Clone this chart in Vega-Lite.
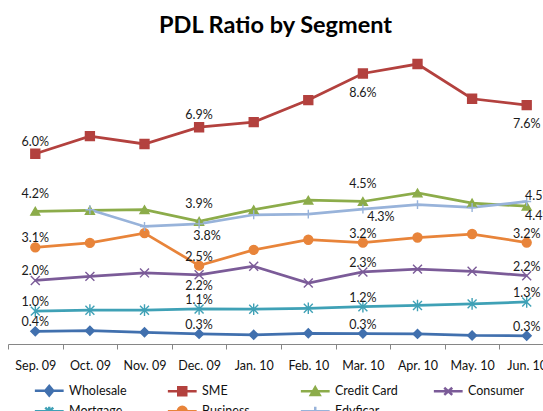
{
  "$schema": "https://vega.github.io/schema/vega-lite/v6.json",
  "autosize": "none",
  "width": 535,
  "height": 316,
  "padding": {"left": 8, "top": 28, "right": 0, "bottom": 67},
  "background": "white",
  "title": {"text": "PDL Ratio by Segment", "font": "Lato", "fontSize": 23.5, "fontWeight": "bold", "color": "#000000", "anchor": "middle", "baseline": "alphabetic", "offset": -4, "dy": 24},
  "config": {
    "view": {"stroke": null},
    "axis": {"title": null, "labelFont": "Lato", "labelFontSize": 12.5, "labelColor": "#111111", "domainColor": "#868686", "tickColor": "#868686", "tickSize": 5, "tickBand": "extent", "labelPadding": 10, "labelAngle": 0, "grid": false},
    "text": {"font": "Lato", "fontSize": 12.5, "color": "#1a1a1a", "baseline": "middle", "align": "center"}
  },
  "data": {"values": [
    {"m":"Sep. 09","s":"Wholesale","v":0.0040},{"m":"Oct. 09","s":"Wholesale","v":0.0042},{"m":"Nov. 09","s":"Wholesale","v":0.0037},{"m":"Dec. 09","s":"Wholesale","v":0.0032},{"m":"Jan. 10","s":"Wholesale","v":0.0029},{"m":"Feb. 10","s":"Wholesale","v":0.0034},{"m":"Mar. 10","s":"Wholesale","v":0.0033},{"m":"Apr. 10","s":"Wholesale","v":0.0032},{"m":"May. 10","s":"Wholesale","v":0.0027},{"m":"Jun. 10","s":"Wholesale","v":0.0026},
    {"m":"Sep. 09","s":"SME","v":0.0602},{"m":"Oct. 09","s":"SME","v":0.0658},{"m":"Nov. 09","s":"SME","v":0.0633},{"m":"Dec. 09","s":"SME","v":0.0686},{"m":"Jan. 10","s":"SME","v":0.0702},{"m":"Feb. 10","s":"SME","v":0.0772},{"m":"Mar. 10","s":"SME","v":0.0856},{"m":"Apr. 10","s":"SME","v":0.0886},{"m":"May. 10","s":"SME","v":0.0776},{"m":"Jun. 10","s":"SME","v":0.0756},
    {"m":"Sep. 09","s":"Credit Card","v":0.0420},{"m":"Oct. 09","s":"Credit Card","v":0.0423},{"m":"Nov. 09","s":"Credit Card","v":0.0425},{"m":"Dec. 09","s":"Credit Card","v":0.0388},{"m":"Jan. 10","s":"Credit Card","v":0.0425},{"m":"Feb. 10","s":"Credit Card","v":0.0455},{"m":"Mar. 10","s":"Credit Card","v":0.0451},{"m":"Apr. 10","s":"Credit Card","v":0.0478},{"m":"May. 10","s":"Credit Card","v":0.0446},{"m":"Jun. 10","s":"Credit Card","v":0.0436},
    {"m":"Sep. 09","s":"Consumer","v":0.0201},{"m":"Oct. 09","s":"Consumer","v":0.0214},{"m":"Nov. 09","s":"Consumer","v":0.0225},{"m":"Dec. 09","s":"Consumer","v":0.0219},{"m":"Jan. 10","s":"Consumer","v":0.0246},{"m":"Feb. 10","s":"Consumer","v":0.0193},{"m":"Mar. 10","s":"Consumer","v":0.0228},{"m":"Apr. 10","s":"Consumer","v":0.0237},{"m":"May. 10","s":"Consumer","v":0.0230},{"m":"Jun. 10","s":"Consumer","v":0.0216},
    {"m":"Sep. 09","s":"Mortgage","v":0.0104},{"m":"Oct. 09","s":"Mortgage","v":0.0107},{"m":"Nov. 09","s":"Mortgage","v":0.0107},{"m":"Dec. 09","s":"Mortgage","v":0.0111},{"m":"Jan. 10","s":"Mortgage","v":0.0110},{"m":"Feb. 10","s":"Mortgage","v":0.0113},{"m":"Mar. 10","s":"Mortgage","v":0.0118},{"m":"Apr. 10","s":"Mortgage","v":0.0122},{"m":"May. 10","s":"Mortgage","v":0.0127},{"m":"Jun. 10","s":"Mortgage","v":0.0133},
    {"m":"Sep. 09","s":"Business","v":0.0306},{"m":"Oct. 09","s":"Business","v":0.0320},{"m":"Nov. 09","s":"Business","v":0.0351},{"m":"Dec. 09","s":"Business","v":0.0248},{"m":"Jan. 10","s":"Business","v":0.0298},{"m":"Feb. 10","s":"Business","v":0.0330},{"m":"Mar. 10","s":"Business","v":0.0321},{"m":"Apr. 10","s":"Business","v":0.0337},{"m":"May. 10","s":"Business","v":0.0348},{"m":"Jun. 10","s":"Business","v":0.0321},
    {"m":"Oct. 09","s":"Edyficar","v":0.0425},{"m":"Nov. 09","s":"Edyficar","v":0.0372},{"m":"Dec. 09","s":"Edyficar","v":0.0380},{"m":"Jan. 10","s":"Edyficar","v":0.0409},{"m":"Feb. 10","s":"Edyficar","v":0.0411},{"m":"Mar. 10","s":"Edyficar","v":0.0427},{"m":"Apr. 10","s":"Edyficar","v":0.0441},{"m":"May. 10","s":"Edyficar","v":0.0432},{"m":"Jun. 10","s":"Edyficar","v":0.0451}
  ]},
  "encoding": {
    "x": {"field": "m", "type": "ordinal", "axis": {}, "scale": {"type": "band", "domain": ["Sep. 09","Oct. 09","Nov. 09","Dec. 09","Jan. 10","Feb. 10","Mar. 10","Apr. 10","May. 10","Jun. 10"], "range": [0, 546], "paddingInner": 0, "paddingOuter": 0}},
    "y": {"field": "v", "type": "quantitative", "axis": null, "scale": {"domain": [0, 0.1], "nice": false, "zero": true}}
  },
  "layer": [
    {
      "mark": {"type": "line", "strokeWidth": 2.75},
      "encoding": {
        "stroke": {"field": "s", "type": "nominal", "legend": null, "scale": {"domain": ["Wholesale","SME","Credit Card","Consumer","Mortgage","Business","Edyficar"], "range": ["#4170AE","#B3413E","#8CAC4A","#7B5B98","#3FA1B6","#E8843A","#98B3DA"]}}
      }
    },
    {
      "mark": {"type": "point", "filled": true, "strokeWidth": 1.4, "opacity": 1},
      "encoding": {
        "fill": {"field": "s", "type": "nominal", "legend": null, "scale": {"domain": ["Wholesale","SME","Credit Card","Consumer","Mortgage","Business","Edyficar"], "range": ["#4170AE","#B3413E","#8CAC4A","#7B5B98","#3FA1B6","#E8843A","#98B3DA"]}},
        "stroke": {"field": "s", "type": "nominal", "legend": null, "scale": {"domain": ["Wholesale","SME","Credit Card","Consumer","Mortgage","Business","Edyficar"], "range": ["#4170AE","#B3413E","#8CAC4A","#7B5B98","#3FA1B6","#E8843A","#98B3DA"]}},
        "shape": {"field": "s", "type": "nominal", "legend": null, "scale": {"domain": ["Wholesale","SME","Credit Card","Consumer","Mortgage","Business","Edyficar"], "range": ["diamond","square","triangle-up","M-1,-1L1,1M-1,1L1,-1","M-1,-1L1,1M-1,1L1,-1M0,-1.3L0,1.3","circle","M-1,0L1,0M0,-1L0,1"]}},
        "size": {"value": 80}
      }
    },
    {
      "transform": [{"filter": "false"}],
      "mark": {"type": "point", "filled": true, "strokeWidth": 2.5, "opacity": 1},
      "encoding": {
        "fill": {"field": "s", "type": "nominal", "scale": {"domain": ["Wholesale","SME","Credit Card","Consumer","Mortgage","Business","Edyficar"], "range": ["#4170AE","#B3413E","#8CAC4A","#7B5B98","#3FA1B6","#E8843A","#98B3DA"]},
          "legend": {"title": null, "orient": "none", "legendX": 35, "legendY": 356, "direction": "horizontal", "columns": 4, "gridAlign": "all", "columnPadding": 30, "rowPadding": 0, "symbolSize": 64, "symbolStrokeWidth": 2.5, "labelOffset": 13.5, "labelFont": "Lato", "labelFontSize": 12.5, "labelColor": "#111111"}},
        "stroke": {"field": "s", "type": "nominal", "scale": {"domain": ["Wholesale","SME","Credit Card","Consumer","Mortgage","Business","Edyficar"], "range": ["#4170AE","#B3413E","#8CAC4A","#7B5B98","#3FA1B6","#E8843A","#98B3DA"]},
          "legend": {"title": null, "orient": "none", "legendX": 35, "legendY": 356, "direction": "horizontal", "columns": 4, "gridAlign": "all", "columnPadding": 30, "rowPadding": 0, "symbolSize": 64, "symbolStrokeWidth": 2.5, "labelOffset": 13.5, "labelFont": "Lato", "labelFontSize": 12.5, "labelColor": "#111111"}},
        "shape": {"field": "s", "type": "nominal", "scale": {"domain": ["Wholesale","SME","Credit Card","Consumer","Mortgage","Business","Edyficar"], "range": ["M-3.6,0L3.6,0M-1,0L0,-1.2L1,0L0,1.2Z","M-3.6,0L3.6,0M-1,-1L1,-1L1,1L-1,1Z","M-3.6,0L3.6,0M0,-1L1.1,0.9L-1.1,0.9Z","M-3.6,0L3.6,0M-1,-0.9L1,0.9M-1,0.9L1,-0.9","M-3.6,0L3.6,0M-1,-0.9L1,0.9M-1,0.9L1,-0.9M0,-1.1L0,1.1","M-3.6,0L3.6,0M-1.1,0A1.1,1.1,0,1,0,1.1,0A1.1,1.1,0,1,0,-1.1,0Z","M-3.6,0L3.6,0M0,-1.1L0,1.1"]},
          "legend": {"title": null, "orient": "none", "legendX": 35, "legendY": 356, "direction": "horizontal", "columns": 4, "gridAlign": "all", "columnPadding": 30, "rowPadding": 0, "symbolSize": 64, "symbolStrokeWidth": 2.5, "labelOffset": 13.5, "labelFont": "Lato", "labelFontSize": 12.5, "labelColor": "#111111"}}
      }
    },
    {
      "transform": [{"filter": "indexof(['Sep. 09','Dec. 09','Mar. 10','Jun. 10'], datum.m) >= 0 && (datum.s == 'Wholesale' || datum.s == 'Mortgage' || datum.s == 'Business' || (datum.s == 'Consumer' && datum.m != 'Dec. 09'))"}],
      "mark": {"type": "text", "dy": -9},
      "encoding": {"text": {"field": "v", "type": "quantitative", "format": ".1%"}}
    },
    {
      "transform": [{"filter": "datum.s == 'SME' && (datum.m == 'Sep. 09' || datum.m == 'Dec. 09')"}],
      "mark": {"type": "text", "dy": -12},
      "encoding": {"text": {"field": "v", "type": "quantitative", "format": ".1%"}}
    },
    {
      "transform": [{"filter": "datum.s == 'Credit Card' && (datum.m == 'Sep. 09' || datum.m == 'Dec. 09' || datum.m == 'Mar. 10')"}],
      "mark": {"type": "text", "dy": -17},
      "encoding": {"text": {"field": "v", "type": "quantitative", "format": ".1%"}}
    },
    {
      "transform": [{"filter": "datum.s == 'Consumer' && datum.m == 'Dec. 09'"}],
      "mark": {"type": "text", "dy": 11},
      "encoding": {"text": {"field": "v", "type": "quantitative", "format": ".1%"}}
    },
    {
      "transform": [{"filter": "datum.s == 'SME' && (datum.m == 'Mar. 10' || datum.m == 'Jun. 10')"}],
      "mark": {"type": "text", "dy": 19},
      "encoding": {"text": {"field": "v", "type": "quantitative", "format": ".1%"}}
    },
    {
      "transform": [{"filter": "datum.s == 'Edyficar' && datum.m == 'Dec. 09'"}],
      "mark": {"type": "text", "dx": 8, "dy": 12},
      "encoding": {"text": {"field": "v", "type": "quantitative", "format": ".1%"}}
    },
    {
      "transform": [{"filter": "datum.s == 'Edyficar' && datum.m == 'Mar. 10'"}],
      "mark": {"type": "text", "dx": 18, "dy": 8},
      "encoding": {"text": {"field": "v", "type": "quantitative", "format": ".1%"}}
    },
    {
      "transform": [{"filter": "datum.s == 'Edyficar' && datum.m == 'Jun. 10'"}],
      "mark": {"type": "text", "dx": 12, "dy": -5},
      "encoding": {"text": {"field": "v", "type": "quantitative", "format": ".1%"}}
    },
    {
      "transform": [{"filter": "datum.s == 'Credit Card' && datum.m == 'Jun. 10'"}],
      "mark": {"type": "text", "dx": 12, "dy": 10},
      "encoding": {"text": {"field": "v", "type": "quantitative", "format": ".1%"}}
    }
  ],
  "resolve": {"scale": {"shape": "independent", "fill": "independent", "stroke": "independent"}, "legend": {"shape": "independent", "fill": "independent", "stroke": "independent"}}
}
